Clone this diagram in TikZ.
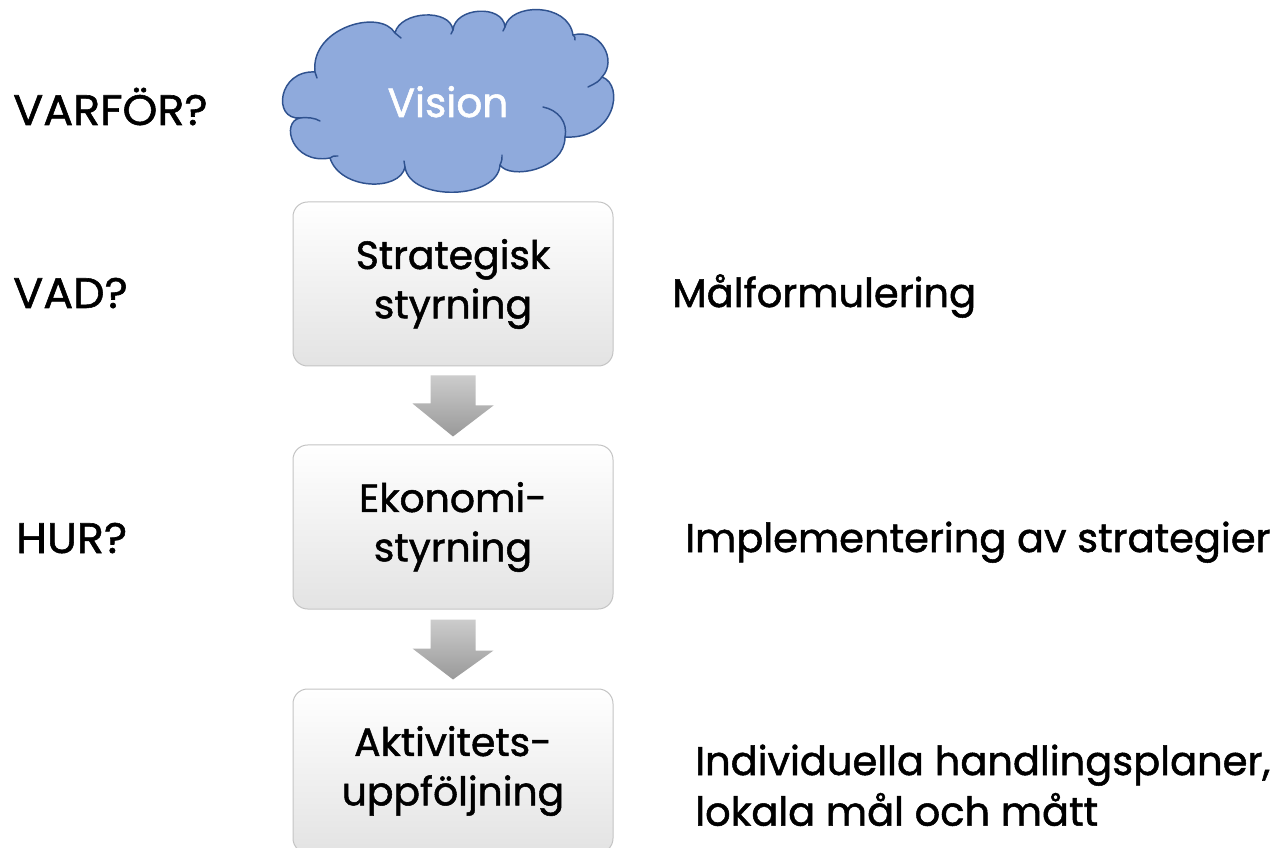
\documentclass[tikz,border=0pt]{standalone}
\usepackage{fontspec}
\setmainfont{Poppins}[FakeBold=1.3]
\newfontfamily\capfont{Poppins}[FakeBold=1.3, FakeStretch=1.04]
\usetikzlibrary{calc}
\definecolor{cloudfill}{HTML}{8FAADC}
\definecolor{cloudline}{HTML}{2F528F}
\definecolor{boxline}{HTML}{C4C4C4}
\begin{document}
\begin{tikzpicture}[x=0.75pt,y=-0.75pt,
  lbl/.style={anchor=base west, inner sep=0pt, font=\fontsize{30}{38}\selectfont},
  qlbl/.style={anchor=base west, inner sep=0pt, font=\capfont\fontsize{32}{38}\selectfont},
  stepbox/.style={draw=boxline, line width=0.75pt, rounded corners=11pt,
    minimum width=240pt, minimum height=123pt, top color=white, middle color=black!1,
    bottom color=black!11, align=center, inner sep=0pt,
    font=\fontsize{29.5}{37}\selectfont},
  blockarrow/.style={top color=black!20, bottom color=black!40, draw=none},
  cloudshape/.style={fill=cloudfill, draw=cloudline, line width=1.1pt, line join=round},
  curl/.style={draw=cloudline, line width=1.1pt, line cap=round}]
\useasboundingbox (0,0) rectangle (1282,848);
\clip (0,0) rectangle (1282,848);
\fill[white] (0,0) rectangle (1282,848);

% cloud
\path[cloudshape] (300,118) .. controls (272,120) and (278,70) .. (315,72)
 .. controls (310,28) and (380,8) .. (395,33)
 .. controls (400,11) and (450,8) .. (453,30)
 .. controls (455,7) and (503,4) .. (505,27)
 .. controls (510,3) and (568,2) .. (573,35)
 .. controls (600,28) and (618,60) .. (602,77)
 .. controls (625,85) and (615,140) .. (565,137)
 .. controls (565,170) and (510,180) .. (500,165)
 .. controls (498,200) and (410,202) .. (405,167)
 .. controls (400,192) and (340,190) .. (330,158)
 .. controls (292,165) and (280,122) .. (300,118) -- cycle;
\path[curl] (300,118) .. controls (308,117) and (315,118) .. (320,121);
\path[curl] (330,158) .. controls (333,156) .. (338,156);
\path[curl] (405,167) .. controls (404,164) .. (404,161);
\path[curl] (500,165) .. controls (502,160) .. (502,155);
\path[curl] (565,137) .. controls (568,122) and (558,110) .. (543,107);
\path[curl] (602,77) .. controls (598,82) .. (588,87);
\path[curl] (573,35) .. controls (575,37) .. (575,40);
\path[curl] (505,27) .. controls (504,29) .. (503,31);
\path[curl] (453,30) .. controls (452,32) .. (451,34);
\path[curl] (395,33) .. controls (398,35) .. (401,38);
\path[curl] (315,72) .. controls (316,75) .. (317,78);
\node[anchor=base, inner sep=0pt, text=white, font=\fontsize{30.5}{36}\selectfont] (vision) at (448,117) {Vision};

% boxes
\node[stepbox] (b1) at (453,284) {Strategisk\\styrning};
\node[stepbox] (b2) at (453,527) {Ekonomi-\\styrning};
\node[stepbox] (b3) at (453,771) {Aktivitets-\\uppföljning};

% block arrows
\path[blockarrow] ($(b1.south)+(-22.5,9)$) -- ++(45,0) -- ++(0,30) -- ++(18,0)
  -- ($(b2.north)+(0,-8)$) -- ++(-40.5,-33) -- ++(18,0) -- cycle;
\path[blockarrow] ($(b2.south)+(-22.5,10)$) -- ++(45,0) -- ++(0,31) -- ++(18,0)
  -- ($(b3.north)+(0,-9)$) -- ++(-40.5,-31) -- ++(18,0) -- cycle;

% labels
\node[qlbl] (why) at (13,125) {VARFÖR?};
\node[qlbl] (what) at (13,308) {VAD?};
\node[qlbl] (how) at (16,553) {HUR?};
\node[lbl] (goal) at (672,307) {Målformulering};
\node[lbl] (impl) at (685,552) {Implementering av strategier};
\node[lbl] (indiv) at (695,775) {\begin{tabular}[t]{@{}l@{}}Individuella handlingsplaner,\\lokala mål och mått\end{tabular}};
\end{tikzpicture}
\end{document}
